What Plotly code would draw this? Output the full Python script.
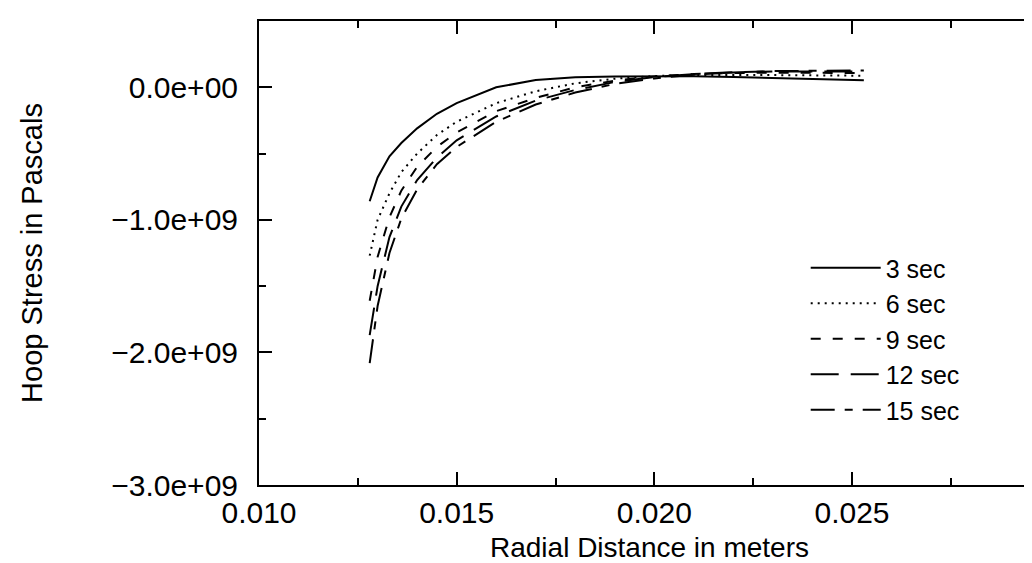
import plotly.graph_objects as go

# Radial distance (m)
r = [0.0128, 0.0130, 0.0133, 0.0136, 0.0140, 0.0145, 0.0150, 0.0160, 0.0170,
     0.0180, 0.0190, 0.0200, 0.0210, 0.0220, 0.0230, 0.0240, 0.0253]

# Hoop stress (Pa) per time
s3 = [-0.86e9, -0.68e9, -0.52e9, -0.42e9, -0.31e9, -0.20e9, -0.12e9, 0.00e9, 0.055e9,
      0.075e9, 0.082e9, 0.085e9, 0.083e9, 0.078e9, 0.070e9, 0.062e9, 0.053e9]
s6 = [-1.27e9, -1.00e9, -0.80e9, -0.64e9, -0.50e9, -0.36e9, -0.26e9, -0.12e9, -0.03e9,
      0.03e9, 0.065e9, 0.085e9, 0.092e9, 0.094e9, 0.092e9, 0.090e9, 0.087e9]
s9 = [-1.61e9, -1.28e9, -0.98e9, -0.78e9, -0.60e9, -0.45e9, -0.34e9, -0.18e9, -0.08e9,
      0.00e9, 0.05e9, 0.082e9, 0.10e9, 0.108e9, 0.110e9, 0.110e9, 0.108e9]
s12 = [-1.87e9, -1.50e9, -1.13e9, -0.90e9, -0.70e9, -0.53e9, -0.40e9, -0.22e9, -0.10e9,
       -0.02e9, 0.04e9, 0.077e9, 0.10e9, 0.113e9, 0.120e9, 0.122e9, 0.120e9]
s15 = [-2.08e9, -1.65e9, -1.25e9, -0.99e9, -0.77e9, -0.58e9, -0.45e9, -0.26e9, -0.13e9,
       -0.04e9, 0.025e9, 0.067e9, 0.095e9, 0.112e9, 0.122e9, 0.126e9, 0.127e9]

series_names = ["3 sec", "6 sec", "9 sec", "12 sec", "15 sec"]
series_vals = [s3, s6, s9, s12, s15]
dashes = ["solid", "2px,5px", "10px,12px", "28px,12px", "24px,10px,8px,10px"]

x_tickvals = [0.010, 0.015, 0.020, 0.025, 0.030]
x_ticktext = ["0.010", "0.015", "0.020", "0.025", "0.030"]
x_minor = [0.0125, 0.0175, 0.0225, 0.0275]
y_tickvals = [0.0, -1.0e9, -2.0e9, -3.0e9]
y_ticktext = ["0.0e+00", "\u22121.0e+09", "\u22122.0e+09", "\u22123.0e+09"]
y_minor = [-0.5e9, -1.5e9, -2.5e9]

FONT = "Liberation Sans, Arial, sans-serif"

fig = go.Figure()
for name, vals, d in zip(series_names, series_vals, dashes):
    fig.add_trace(go.Scatter(x=r, y=vals, mode="lines", name=name,
                             line=dict(color="black", width=2, dash=d)))
# helper trace for right-side ticks
fig.add_trace(go.Scatter(x=[None], y=[None], yaxis="y2", showlegend=False,
                         hoverinfo="skip"))

xr = [0.010, 0.010 + (1032 - 251) / 39533]
yr = [-3.0e9, 0.5e9]

fig.update_layout(
    width=1032, height=563,
    margin=dict(l=251, r=0, t=13, b=86),
    paper_bgcolor="white", plot_bgcolor="white",
    font=dict(family=FONT, size=30, color="black"),
    showlegend=True,
    legend=dict(x=0.70, y=0.517, xanchor="left", yanchor="top",
                bgcolor="rgba(0,0,0,0)", borderwidth=0,
                font=dict(size=25, family=FONT), itemwidth=70,
                tracegroupgap=0),
    xaxis=dict(range=xr, tickmode="array", tickvals=x_tickvals, ticktext=x_ticktext,
               ticks="inside", ticklen=13, tickwidth=1.5, tickcolor="black",
               showline=True, linecolor="black", linewidth=2, mirror="ticks",
               showgrid=False, zeroline=False,
               minor=dict(tickvals=x_minor, ticks="inside", ticklen=7,
                          tickwidth=1.5, tickcolor="black", showgrid=False),
               title=dict(text="Radial Distance in meters", standoff=9,
                          font=dict(size=28, family=FONT)),
               tickfont=dict(size=30, family=FONT)),
    yaxis=dict(range=yr, tickmode="array", tickvals=y_tickvals, ticktext=y_ticktext,
               ticks="inside", ticklen=13, tickwidth=1.5, tickcolor="black",
               showline=True, linecolor="black", linewidth=2, mirror=False,
               showgrid=False, zeroline=False, ticklabelstandoff=13,
               minor=dict(tickvals=y_minor, ticks="inside", ticklen=7,
                          tickwidth=1.5, tickcolor="black", showgrid=False),
               title=dict(text="Hoop Stress in Pascals", standoff=60,
                          font=dict(size=29, family=FONT)),
               tickfont=dict(size=30, family=FONT)),
    yaxis2=dict(range=yr, overlaying="y", side="right", tickmode="array",
                tickvals=y_tickvals, ticks="inside", ticklen=13, tickwidth=1.5,
                tickcolor="black", showticklabels=False, showline=False,
                showgrid=False, zeroline=False,
                minor=dict(tickvals=y_minor, ticks="inside", ticklen=7,
                           tickwidth=1.5, tickcolor="black", showgrid=False)),
)

fig.write_html("out.html")
